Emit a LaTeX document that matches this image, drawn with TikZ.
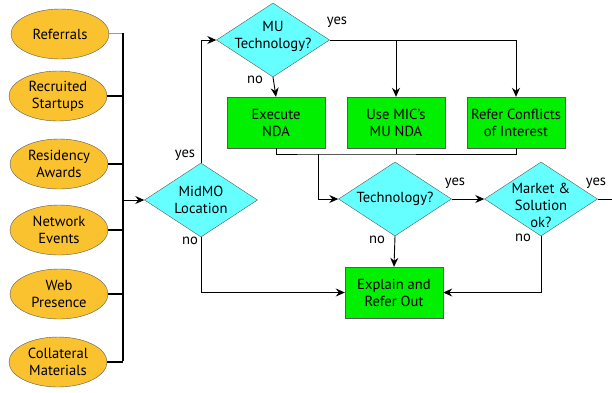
\documentclass[tikz,border=0pt]{standalone}
\usepackage{fontspec}
\setmainfont{PT Sans}
\usetikzlibrary{shapes.geometric,arrows.meta}
\definecolor{srcgold}{HTML}{FBC230}
\definecolor{qcyan}{HTML}{66FFFF}
\definecolor{actgreen}{HTML}{00F000}
\begin{document}
\begin{tikzpicture}[x=1pt,y=-1pt,
  txt/.style={font=\fontsize{14.6}{17}\selectfont, align=center, inner sep=0pt},
  source/.style={ellipse, draw=black!65, thin, fill=srcgold, minimum width=98pt,
    minimum height=50pt, inner sep=0pt, txt},
  choice/.style={diamond, draw=black!65, thin, fill=qcyan, minimum width=113pt,
    minimum height=74pt, inner sep=0pt},
  action/.style={rectangle, draw=black!65, thin, fill=actgreen, minimum width=98pt,
    minimum height=51pt, inner sep=0pt, txt},
  flow/.style={draw=black, line width=0.9pt},
  arr/.style={flow, -{Stealth[length=9pt,width=8pt,inset=3pt]}},
  tie/.style={draw=black, line width=1.3pt},
  lbl/.style={txt}]
\useasboundingbox (0,0) rectangle (612,392);

% lead sources
\node[source] (ref) at (60,34) {Referrals};
\node[source] (rec) at (58,96) {Recruited\\Startups};
\node[source] (res) at (59,164) {Residency\\Awards};
\node[source] (net) at (59,230) {Network\\Events};
\node[source] (web) at (59,294) {Web\\Presence};
\node[source] (col) at (58,362) {Collateral\\Materials};

% collecting bar
\coordinate (bartop) at (123,33);
\coordinate (barbot) at (123,361);
\draw[draw=black!40, line width=0.7pt] (ref.east |- bartop) -- (bartop);
\foreach \s in {rec,res,net,web,col}
  \draw[tie] (\s.east) -- (\s.east -| bartop);
\draw[draw=black, line width=2.6pt] (bartop) -- (barbot);

% decisions
\node[choice] (mid) at (201,200) {};
\node[txt] (midt) at (201,200) {MidMO\\Location};
\node[choice] (mu) at (273,40) {};
\node[txt] (mut) at (273,36) {MU\\Technology?};
\node[choice] (tech) at (395,199) {};
\node[txt] (techt) at (395,199) {Technology?};
\node[choice] (mkt) at (541,199) {};
\node[txt] (mktt) at (541,205) {Market \&\\Solution\\ok?};

% actions
\node[action] (nda) at (276,122.5) {Execute\\NDA};
\node[action] (mic) at (396,122.5) {Use MIC's\\MU NDA};
\node[action] (coi) at (516,122.5) {Refer Conflicts\\of Interest};
\node[action] (out) at (394,292.5) {Explain and\\Refer Out};

% connectors
\draw[arr] (mid.west -| bartop) -- (mid.west);
\draw[arr] (mid.north) |- (mu.west);
\draw[arr] (mu.south) -- (nda.north);
\draw[flow] (mu.east) -- (mu.east -| coi.north);
\draw[arr] (mu.east -| coi.north) -- (coi.north);
\draw[arr] (mu.east -| mic.north) -- (mic.north);

\coordinate (join) at (318,154);
\draw[flow] (nda.south) |- (join) -- (join -| coi.south) -- (coi.south);
\draw[flow] (mic.south) -- (mic.south |- join);
\draw[arr] (join) |- (tech.west);

\draw[arr] (tech.east) -- (mkt.west);
\coordinate (onward) at (612,199);
\draw[flow] (mkt.east) -- (onward);
\draw[arr] (tech.south) -- (out.north);
\draw[arr] (mkt.south) |- (out.east);
\draw[arr] (mid.south) |- (out.west);

% branch labels
\node[lbl] (l1) at (185,155) {yes};
\node[lbl] (l2) at (190,241) {no};
\node[lbl] (l3) at (337,22) {yes};
\node[lbl] (l4) at (255,80) {no};
\node[lbl] (l5) at (455,183) {yes};
\node[lbl] (l6) at (377,240) {no};
\node[lbl] (l7) at (596,183) {yes};
\node[lbl] (l8) at (523,238) {no};
\end{tikzpicture}
\end{document}
